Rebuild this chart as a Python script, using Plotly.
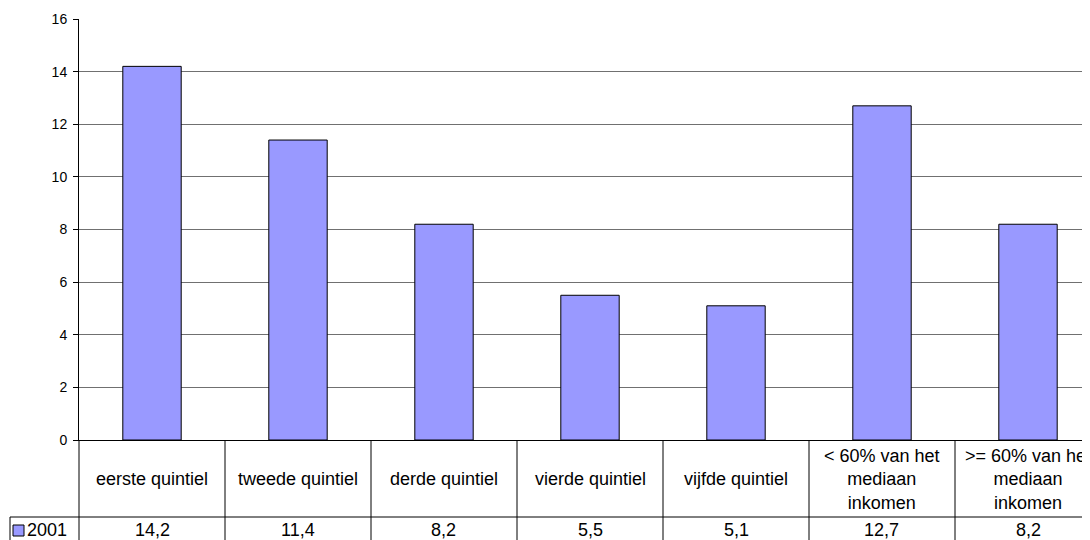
import plotly.graph_objects as go

categories = ["eerste quintiel", "tweede quintiel", "derde quintiel", "vierde quintiel",
              "vijfde quintiel", "< 60% van het<br>mediaan<br>inkomen", ">= 60% van het<br>mediaan<br>inkomen"]
values_2001 = [14.2, 11.4, 8.2, 5.5, 5.1, 12.7, 8.2]
value_labels = ["14,2", "11,4", "8,2", "5,5", "5,1", "12,7", "8,2"]
series_name = "2001"
y_ticks = [0, 2, 4, 6, 8, 10, 12, 14, 16]

OFF = 8  # page body margin
W, H = 1090 - OFF, 540 - OFF
PL, PT, PB = 79, 19, 440          # plot area in page pixels
L, T = PL - OFF, PT - OFF
B = H - (PB - OFF)
pw, ph = W - L, H - T - B
cat_px = 146.0
x0 = -0.5
x1 = x0 + pw / cat_px

def py(p):  # page pixel y -> paper y
    return (PB - p) / ph

def px(p):  # page pixel x -> paper x
    return (p - PL) / pw

def dx(v):  # data x -> paper x
    return (v - x0) / (x1 - x0)

fig = go.Figure()
fig.add_trace(go.Bar(
    x=list(range(len(categories))), y=values_2001, width=0.4,
    marker=dict(color="#9999FF", line=dict(color="black", width=1)),
    name=series_name, showlegend=False, hoverinfo="skip"))

FAM = "Liberation Sans, Arial, sans-serif"
font = dict(family=FAM, size=18, color="black")
shapes = []
for k in range(len(categories)):
    xp = dx(k + 0.5)
    shapes.append(dict(type="line", xref="paper", yref="paper", x0=xp, x1=xp,
                       y0=py(440), y1=py(545), line=dict(color="black", width=1)))
shapes.append(dict(type="line", xref="paper", yref="paper", x0=0, x1=0,
                   y0=py(440), y1=py(545), line=dict(color="black", width=1)))
shapes.append(dict(type="line", xref="paper", yref="paper", x0=px(10), x1=1,
                   y0=py(517), y1=py(517), line=dict(color="black", width=1)))
shapes.append(dict(type="line", xref="paper", yref="paper", x0=px(10), x1=px(10),
                   y0=py(517), y1=py(545), line=dict(color="black", width=1)))
shapes.append(dict(type="rect", xref="paper", yref="paper", x0=px(13), x1=px(24),
                   y0=py(536), y1=py(525), fillcolor="#9999FF", line=dict(color="black", width=1)))

annotations = []
for i, c in enumerate(categories):
    annotations.append(dict(x=dx(i), y=py(479), xref="paper", yref="paper", text=c,
                            showarrow=False, font=font, xanchor="center", yanchor="middle"))
    annotations.append(dict(x=dx(i), y=py(530), xref="paper", yref="paper", text=value_labels[i],
                            showarrow=False, font=font, xanchor="center", yanchor="middle"))
annotations.append(dict(x=px(25), y=py(530), xref="paper", yref="paper", text=series_name,
                        showarrow=False, font=font, xanchor="left", yanchor="middle"))

fig.update_layout(
    width=W, height=H, margin=dict(l=L, r=0, t=T, b=B, pad=0),
    paper_bgcolor="white", plot_bgcolor="white",
    xaxis=dict(range=[x0, x1], showticklabels=False, ticks="", showgrid=False,
               showline=True, linecolor="black", linewidth=1, zeroline=False, fixedrange=True),
    yaxis=dict(range=[0, 16], tickvals=y_ticks, ticks="outside", ticklen=5, tickcolor="black",
               showline=True, linecolor="black", linewidth=1, showgrid=True,
               gridcolor="#707070", gridwidth=1, zeroline=False, ticklabelstandoff=3,
               tickfont=dict(family=FAM, size=14, color="black")),
    shapes=shapes, annotations=annotations, showlegend=False,
)
fig.write_html("out.html")
